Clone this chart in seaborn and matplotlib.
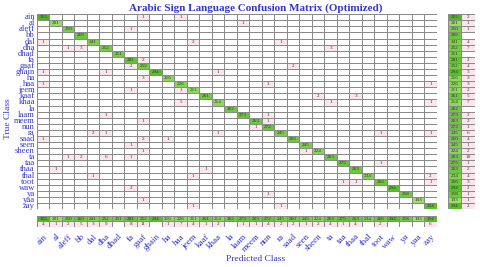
import numpy as np
import pandas as pd
import seaborn as sns
import matplotlib.pyplot as plt
from matplotlib.colors import ListedColormap, LinearSegmentedColormap

classes = ['ain', 'al', 'aleff', 'bb', 'dal', 'dha', 'dhad', 'fa', 'gaaf', 'ghain',
           'ha', 'haa', 'jeem', 'kaaf', 'khaa', 'la', 'laam', 'meem', 'nun', 'ra',
           'saad', 'seen', 'sheen', 'ta', 'taa', 'thaa', 'thal', 'toot', 'waw', 'ya',
           'yaa', 'zay']

correct = [315, 201, 250, 269, 241, 252, 251, 281, 252, 294, 216, 226, 211, 261, 214, 262,
           273, 263, 272, 245, 260, 245, 224, 263, 275, 263, 234, 266, 294, 258, 193, 294]

# misclassifications: (true, predicted, count)
errors = [
    ('ain', 'gaaf', 1), ('ain', 'haa', 1),
    ('al', 'laam', 1),
    ('aleff', 'fa', 1),
    ('dal', 'ain', 1), ('dal', 'jeem', 2), ('dal', 'ra', 1),
    ('dha', 'aleff', 1), ('dha', 'bb', 3), ('dha', 'ta', 3),
    ('fa', 'gaaf', 2),
    ('gaaf', 'fa', 2), ('gaaf', 'saad', 2),
    ('ghain', 'ain', 1), ('ghain', 'dha', 1), ('ghain', 'khaa', 1),
    ('ha', 'gaaf', 3),
    ('haa', 'ain', 1), ('haa', 'nun', 1), ('haa', 'zay', 1),
    ('jeem', 'fa', 1), ('jeem', 'haa', 1),
    ('kaaf', 'sheen', 2), ('kaaf', 'thaa', 3),
    ('khaa', 'haa', 5), ('khaa', 'ta', 1), ('khaa', 'zay', 1),
    ('laam', 'dha', 1), ('laam', 'nun', 1),
    ('meem', 'gaaf', 1), ('meem', 'nun', 1),
    ('nun', 'meem', 1),
    ('ra', 'dal', 2), ('ra', 'dha', 1), ('ra', 'khaa', 1), ('ra', 'toot', 1), ('ra', 'zay', 1),
    ('saad', 'ain', 1), ('saad', 'gaaf', 2), ('saad', 'ha', 1),
    ('seen', 'fa', 1),
    ('sheen', 'gaaf', 1), ('sheen', 'seen', 1),
    ('ta', 'aleff', 1), ('ta', 'bb', 2), ('ta', 'dha', 6), ('ta', 'fa', 1),
    ('taa', 'toot', 1),
    ('thaa', 'al', 1), ('thaa', 'kaaf', 1),
    ('thal', 'dal', 1), ('thal', 'jeem', 1), ('thal', 'zay', 2),
    ('toot', 'taa', 1), ('toot', 'thaa', 1), ('toot', 'zay', 1),
    ('waw', 'fa', 2),
    ('ya', 'nun', 1),
    ('yaa', 'gaaf', 1),
    ('zay', 'jeem', 1), ('zay', 'ra', 1),
]

cm = pd.DataFrame(0, index=classes, columns=classes)
for c, v in zip(classes, correct):
    cm.loc[c, c] = v
for t, p, n in errors:
    cm.loc[t, p] = n

off = cm.values.copy()
np.fill_diagonal(off, 0)
fn = off.sum(axis=1)
fp = off.sum(axis=0)

BLUE = '#3535d0'
PINK = '#fbe6ee'
LINE = '#8a8a8a'
SERIF = 'Liberation Serif'
greens = LinearSegmentedColormap.from_list('g', ['#9ede6c', '#4cb81e'])
pinks = ListedColormap(['white', PINK])
kws = dict(cbar=False, linewidths=0.6, linecolor=LINE, fmt='')
akws = {'size': 3.7, 'color': '#333333', 'family': SERIF}


def draw_cells(ax, values, green):
    values = np.asarray(values)
    kind = np.where(green, 0, values > 0).astype(int)
    txt = np.where(~green & (values > 0), values.astype(str), '')
    sns.heatmap(kind, mask=green, cmap=pinks, vmin=0, vmax=1, annot=txt,
                annot_kws=akws, ax=ax, **kws)
    sns.heatmap(values, mask=~green, cmap=greens, vmin=190, vmax=315,
                annot=values.astype(str), annot_kws=akws, ax=ax, **kws)
    ax.set_xticks([])
    ax.set_yticks([])


fig = plt.figure(figsize=(4.8, 2.67), dpi=100)
ax = fig.add_axes([0.077, 0.217, 0.833, 0.730])
ax_r = fig.add_axes([0.933, 0.217, 0.056, 0.730])
ax_b = fig.add_axes([0.077, 0.150, 0.833, 0.041])

draw_cells(ax, cm.values, np.eye(len(classes), dtype=bool))

right = np.column_stack([correct, fn])
green_r = np.zeros_like(right, dtype=bool)
green_r[:, 0] = True
draw_cells(ax_r, right, green_r)

bottom = np.vstack([correct, fp])
green_b = np.zeros_like(bottom, dtype=bool)
green_b[0, :] = True
draw_cells(ax_b, bottom, green_b)

ax.set_yticks(np.arange(len(classes)) + 0.5)
ax.set_yticklabels(classes, rotation=0, fontsize=6.2, color=BLUE, family=SERIF)
ax.tick_params(axis='y', length=0, pad=1.5)

ax_b.set_xticks(np.arange(len(classes)) + 0.5)
ax_b.set_xticklabels(classes, rotation=45, ha='right', rotation_mode='anchor',
                     fontsize=6.5, color=BLUE, family=SERIF)
ax_b.tick_params(axis='x', length=0, pad=4)

fig.text(0.533, 0.968, 'Arabic Sign Language Confusion Matrix (Optimized)',
         ha='center', va='center', fontsize=8, fontweight='bold', color=BLUE, family=SERIF)
fig.text(0.017, 0.555, 'True Class', rotation=90, ha='center', va='center',
         fontsize=6.8, color=BLUE, family=SERIF)
fig.text(0.533, 0.03, 'Predicted Class', ha='center', va='center',
         fontsize=6.8, color=BLUE, family=SERIF)

plt.savefig('out.png', dpi=100)
